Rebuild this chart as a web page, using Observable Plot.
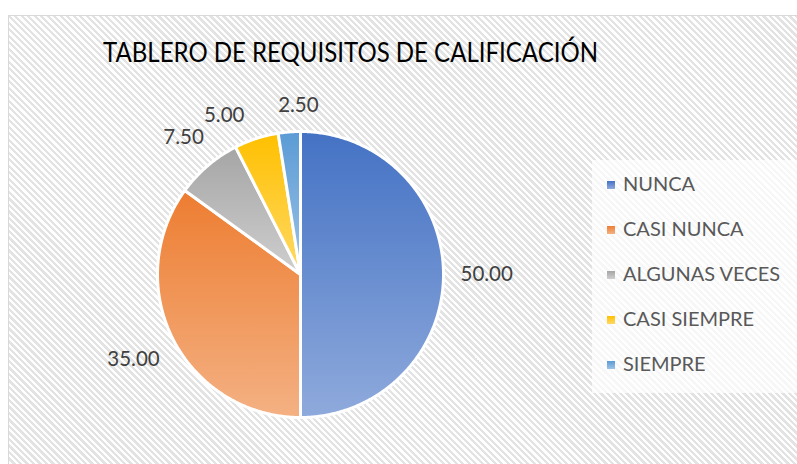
<!DOCTYPE html>
<html><head><meta charset="utf-8">
<script src="https://cdn.jsdelivr.net/npm/d3@7"></script>
<script src="https://cdn.jsdelivr.net/npm/@observablehq/plot@0.6"></script>
<style>
body{margin:0;background:#fff;}
#wrap{position:relative;width:797px;height:464px;overflow:hidden;background:#fff;font-family:Lato,"Open Sans",sans-serif;}
#area{position:absolute;left:8px;top:15px;width:820px;height:480px;border:1px solid #d9d9d9;
  background:repeating-linear-gradient(45deg,#ffffff 0px,#ffffff 2.3px,#e3e3e3 2.3px,#e3e3e3 4.6px);}
#title{position:absolute;left:103px;top:39px;font-size:26px;line-height:1;color:#000;white-space:nowrap;transform-origin:0 0;}
#legendbox{position:absolute;left:592px;top:160px;width:210px;height:233px;background:rgba(255,255,255,0.72);}
.li{position:absolute;font-size:20px;line-height:1;color:#595959;white-space:nowrap;}
.sw{position:absolute;width:8px;height:8px;}
#plot{position:absolute;left:0;top:0;}
</style>
</head><body>
<div id="wrap">
  <div id="area"></div>
  <div id="legendbox"></div>
  <div id="plot"></div>
  <div id="title"></div>
</div>
<script>
// ---- data ----
const categories = ["NUNCA", "CASI NUNCA", "ALGUNAS VECES", "CASI SIEMPRE", "SIEMPRE"];
const values = [50.00, 35.00, 7.50, 5.00, 2.50];
const titleText = "TABLERO DE REQUISITOS DE CALIFICACIÓN";
// ---- palette (gradient top / bottom) ----
const gradTop = ["#4472C4", "#ED7D31", "#A5A5A5", "#FFC000", "#5B9BD5"];
const gradBottom = ["#8FAADC", "#F4B183", "#CFCFCF", "#FFD966", "#9DC3E6"];

// ---- layout ----
const W = 797, H = 464, CX = 300, CY = 274, R = 143;
const labelPad = 17, labelH = 18, fontSize = 20.5;

const rows = categories.map((c, i) => ({cat: c, value: values[i], i}));
const arcs = d3.pie().sort(null).value(d => d.value)(rows);

function pt(a, r) { return {x: r * Math.sin(a), y: r * Math.cos(a)}; }

function slicePoly(a) {
  const pts = [{x: 0, y: 0}];
  const n = Math.max(2, Math.ceil((a.endAngle - a.startAngle) / 0.01));
  for (let k = 0; k <= n; k++) pts.push(pt(a.startAngle + (a.endAngle - a.startAngle) * k / n, R));
  pts.push({x: 0, y: 0});
  return pts;
}

// label measurement
const ctx = document.createElement("canvas").getContext("2d");
ctx.font = `${fontSize}px Lato`;
const fmt = v => v.toFixed(2);

function placeAt(L, ang) {
  const s = Math.sin(ang), c = Math.cos(ang);
  const ext = Math.abs(s) * L.w / 2 + Math.abs(c) * labelH / 2;
  const d = R + labelPad + ext;
  L.ang = ang; L.x = d * s; L.y = d * c;
}
const labels = arcs.map(a => {
  const L = {text: fmt(a.data.value), w: ctx.measureText(fmt(a.data.value)).width, mid: (a.startAngle + a.endAngle) / 2, a0: a.startAngle, a1: a.endAngle};
  placeAt(L, L.mid);
  return L;
});
// simple collision relaxation between neighbouring labels
const gap = 33, step = 0.003;
function overlap(A, B) {
  const vy = Math.abs(A.y - B.y) < labelH;
  const hx = Math.abs(A.x - B.x) < (A.w + B.w) / 2 + gap;
  return vy && hx;
}
for (let it = 0; it < 600; it++) {
  let moved = false;
  for (let i = 0; i < labels.length - 1; i++) {
    const A = labels[i], B = labels[i + 1];
    if (overlap(A, B)) {
      placeAt(A, A.ang - 2 * step);
      placeAt(B, B.ang + step);
      moved = true;
    }
  }
  if (!moved) break;
}
// leaders for labels moved outside their slice
const leaders = labels.filter(L => L.ang < L.a0 || L.ang > L.a1).map(L => {
  const p = pt(L.mid, R + 1);
  const tx = Math.max(L.x - L.w / 2, Math.min(L.x + L.w / 2, p.x));
  return {x1: p.x, y1: p.y, x2: tx, y2: L.y - labelH / 2 - 3};
});

const chart = Plot.plot({
  width: W, height: H, margin: 0,
  x: {domain: [-CX, W - CX], axis: null},
  y: {domain: [-(H - CY), CY], axis: null},
  style: {background: "transparent", overflow: "visible"},
  marks: [
    ...arcs.map((a, i) => Plot.line(slicePoly(a), {
      x: "x", y: "y", fill: `url(#grad${i})`, stroke: "white", strokeWidth: 3, strokeLinejoin: "round"
    })),
    Plot.link(leaders, {x1: "x1", y1: "y1", x2: "x2", y2: "y2", stroke: "#A6A6A6", strokeWidth: 1}),
    Plot.text(labels, {x: "x", y: "y", text: "text", fontSize, fontFamily: "Lato", fill: "#404040"})
  ]
});
const defs = d3.select(chart).insert("defs", ":first-child");
const g = defs.selectAll("linearGradient").data(gradTop).join("linearGradient")
  .attr("id", (d, i) => "grad" + i).attr("x1", 0).attr("y1", 0).attr("x2", 0).attr("y2", 1);
g.append("stop").attr("offset", 0).attr("stop-color", (d, i) => gradTop[i]);
g.append("stop").attr("offset", 1).attr("stop-color", (d, i) => gradBottom[i]);
document.getElementById("plot").appendChild(chart);

// title
const t = document.getElementById("title");
t.textContent = titleText;
const tw = t.getBoundingClientRect().width;
t.style.transform = `scaleX(${495 / tw})`;

// legend
const wrap = document.getElementById("wrap");
categories.forEach((c, i) => {
  const yc = 183.5 + 45 * i;
  const sw = document.createElement("div");
  sw.className = "sw";
  sw.style.left = "607px"; sw.style.top = (yc - 3) + "px";
  sw.style.background = `linear-gradient(${gradTop[i]}, ${gradBottom[i]})`;
  wrap.appendChild(sw);
  const tx = document.createElement("div");
  tx.className = "li";
  tx.style.left = "623px"; tx.style.top = (yc - 10.5) + "px";
  tx.textContent = c;
  wrap.appendChild(tx);
});
</script>
</body></html>
